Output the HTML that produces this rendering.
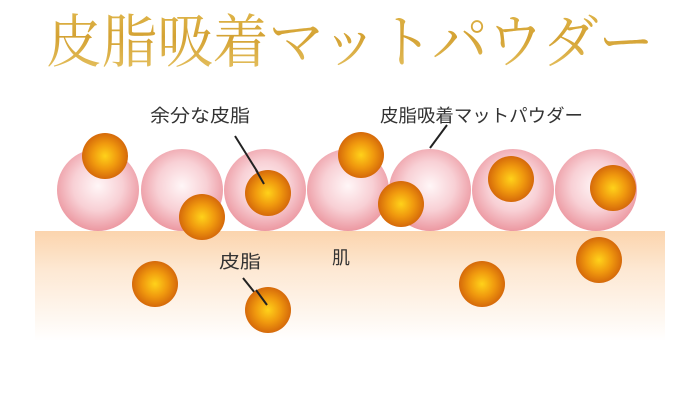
<!DOCTYPE html><html><head><meta charset="utf-8"><style>body{margin:0;background:#fff}</style></head><body>
<svg width="700" height="400" xmlns="http://www.w3.org/2000/svg" style="display:block">
<defs>
<linearGradient id="gold" x1="0" y1="0" x2="0" y2="1"><stop offset="0" stop-color="#e6c25a"/><stop offset="0.5" stop-color="#d4a233"/><stop offset="1" stop-color="#e8c76a"/></linearGradient>
<linearGradient id="skin" x1="0" y1="0" x2="0" y2="1"><stop offset="0" stop-color="#fbd4ad"/><stop offset="0.35" stop-color="#fde8d3"/><stop offset="1" stop-color="#ffffff"/></linearGradient>
<radialGradient id="pink" cx="0.5" cy="0.45" r="0.55"><stop offset="0" stop-color="#fff6f7"/><stop offset="0.55" stop-color="#f8d0d5"/><stop offset="1" stop-color="#ec98a1"/></radialGradient>
<radialGradient id="org" cx="0.5" cy="0.5" r="0.5"><stop offset="0" stop-color="#ffd21a"/><stop offset="0.55" stop-color="#f0990e"/><stop offset="1" stop-color="#d5690a"/></radialGradient>
</defs>
<text x="350" y="62" text-anchor="middle" font-family="'Noto Serif CJK JP','Noto Serif CJK SC',serif" font-size="58" fill="url(#gold)" textLength="608" lengthAdjust="spacingAndGlyphs">皮脂吸着マットパウダー</text>
<rect x="35" y="231" width="630" height="110" fill="url(#skin)"/>
<g fill="url(#pink)">
<circle cx="98" cy="190" r="41"/><circle cx="182" cy="190" r="41"/><circle cx="265" cy="190" r="41"/><circle cx="348" cy="190" r="41"/><circle cx="430" cy="190" r="41"/><circle cx="513" cy="190" r="41"/><circle cx="596" cy="190" r="41"/>
</g>
<g stroke="#222" stroke-width="2">
<line x1="235" y1="136" x2="260" y2="176"/><line x1="447" y1="125" x2="430" y2="148"/><line x1="243" y1="278" x2="267" y2="308"/>
</g>
<g fill="url(#org)">
<circle cx="105" cy="156" r="23"/><circle cx="202" cy="217" r="23"/><circle cx="268" cy="193" r="23"/><circle cx="361" cy="155" r="23"/><circle cx="401" cy="204" r="23"/><circle cx="511" cy="179" r="23"/><circle cx="613" cy="188" r="23"/><circle cx="155" cy="284" r="23"/><circle cx="268" cy="310" r="23"/><circle cx="482" cy="284" r="23"/><circle cx="599" cy="260" r="23"/>
</g>
<line x1="256" y1="170" x2="264" y2="184" stroke="#222" stroke-width="2"/>
<line x1="256" y1="290" x2="267" y2="305" stroke="#222" stroke-width="2"/>
<g font-family="'Liberation Sans','Noto Sans CJK JP',sans-serif" font-size="18" fill="#333">
<text x="150" y="122" textLength="100" lengthAdjust="spacingAndGlyphs">余分な皮脂</text>
<text x="380" y="122" textLength="203" lengthAdjust="spacingAndGlyphs">皮脂吸着マットパウダー</text>
<text x="219" y="268" textLength="42" lengthAdjust="spacingAndGlyphs">皮脂</text>
<text x="332" y="264">肌</text>
</g>
</svg>
</body></html>
